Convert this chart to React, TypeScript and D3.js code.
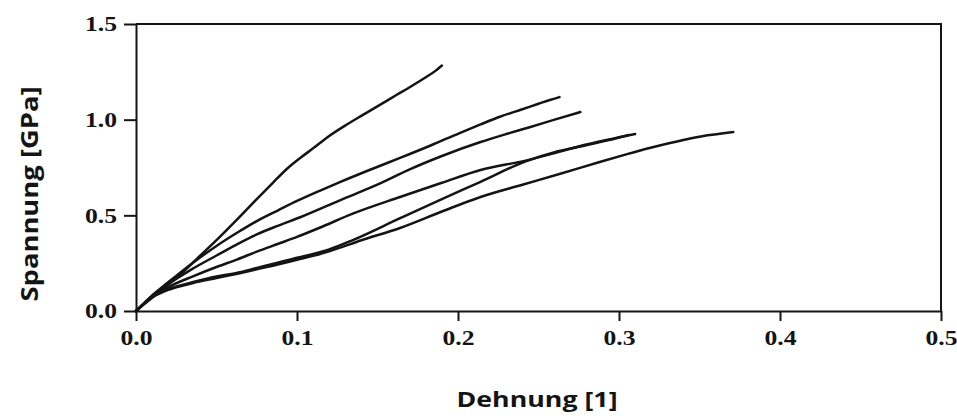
import React, { useEffect, useRef } from "react";
import * as d3 from "d3";

const W = 957;
const H = 416;

// Axis ticks
const strainTicks = [0, 0.1, 0.2, 0.3, 0.4, 0.5];
const stressTicks = [0, 0.5, 1.0, 1.5];

// Stress–strain curves: [Dehnung, Spannung in GPa]
const probe1: [number, number][] = [
  [0, 0], [0.005, 0.035], [0.01, 0.07], [0.015, 0.105], [0.02, 0.14], [0.03, 0.21],
  [0.04, 0.29], [0.05, 0.37], [0.063, 0.48], [0.075, 0.585], [0.085, 0.67],
  [0.094, 0.745], [0.102, 0.8], [0.11, 0.85], [0.12, 0.915], [0.131, 0.975],
  [0.141, 1.025], [0.152, 1.08], [0.162, 1.13], [0.172, 1.18], [0.18, 1.222],
  [0.186, 1.255], [0.19, 1.283],
];
const probe2: [number, number][] = [
  [0, 0], [0.005, 0.04], [0.01, 0.08], [0.02, 0.15], [0.035, 0.25], [0.05, 0.34],
  [0.063, 0.41], [0.075, 0.47], [0.088, 0.525], [0.1, 0.575], [0.114, 0.628],
  [0.127, 0.675], [0.145, 0.737], [0.164, 0.8], [0.183, 0.865], [0.201, 0.93],
  [0.214, 0.975], [0.226, 1.015], [0.239, 1.052], [0.25, 1.083], [0.257, 1.103],
  [0.263, 1.118],
];
const probe3: [number, number][] = [
  [0, 0], [0.005, 0.04], [0.01, 0.08], [0.02, 0.14], [0.035, 0.22], [0.05, 0.29],
  [0.063, 0.35], [0.075, 0.4], [0.088, 0.445], [0.102, 0.49], [0.127, 0.58],
  [0.152, 0.668], [0.17, 0.74], [0.19, 0.81], [0.214, 0.883], [0.23, 0.925],
  [0.245, 0.962], [0.26, 1.0], [0.276, 1.04],
];
const probe4: [number, number][] = [
  [0, 0], [0.005, 0.04], [0.01, 0.075], [0.02, 0.125], [0.035, 0.18], [0.05, 0.23],
  [0.063, 0.27], [0.075, 0.31], [0.088, 0.35], [0.1, 0.387], [0.114, 0.435],
  [0.135, 0.51], [0.164, 0.596], [0.19, 0.67], [0.214, 0.737], [0.242, 0.786],
  [0.26, 0.825], [0.276, 0.862], [0.293, 0.895], [0.31, 0.925],
];
const probe5: [number, number][] = [
  [0, 0], [0.005, 0.04], [0.01, 0.07], [0.02, 0.11], [0.035, 0.145], [0.05, 0.172],
  [0.063, 0.195], [0.075, 0.218], [0.088, 0.243], [0.1, 0.268], [0.11, 0.288],
  [0.12, 0.312], [0.14, 0.37], [0.164, 0.434], [0.19, 0.52], [0.214, 0.596],
  [0.24, 0.66], [0.263, 0.716], [0.288, 0.779], [0.305, 0.82], [0.319, 0.852],
  [0.34, 0.894], [0.355, 0.918], [0.371, 0.936],
];
const probe6: [number, number][] = [
  [0, 0], [0.005, 0.04], [0.01, 0.075], [0.02, 0.115], [0.035, 0.15], [0.05, 0.18],
  [0.063, 0.2], [0.075, 0.225], [0.088, 0.252], [0.1, 0.278], [0.11, 0.298],
  [0.12, 0.322], [0.135, 0.372], [0.164, 0.485], [0.19, 0.585], [0.214, 0.675],
  [0.242, 0.782], [0.26, 0.83], [0.276, 0.86], [0.293, 0.892], [0.306, 0.92],
];
const curves = [probe1, probe2, probe3, probe4, probe5, probe6];

const INK = "#141414";

export default function App() {
  const ref = useRef<SVGSVGElement>(null);

  useEffect(() => {
    const svg = d3.select(ref.current);
    svg.selectAll("*").remove();

    const x = d3.scaleLinear().domain([0, 0.5]).range([136, 941]);
    const y = d3.scaleLinear().domain([0, 1.5]).range([311, 24]);
    const fmt = d3.format(".1f");

    svg.append("rect").attr("width", W).attr("height", H).attr("fill", "#fff");

    // Curves
    const line = d3
      .line<[number, number]>()
      .x((d) => x(d[0]))
      .y((d) => y(d[1]))
      .curve(d3.curveMonotoneX);
    svg
      .append("g")
      .selectAll("path")
      .data(curves)
      .join("path")
      .attr("d", (d) => line(d))
      .attr("fill", "none")
      .attr("stroke", INK)
      .attr("stroke-width", 2.5)
      .attr("stroke-linejoin", "round")
      .attr("stroke-linecap", "round");

    // Top and right frame
    svg
      .append("path")
      .attr("d", `M${x(0)},${y(1.5)}H${x(0.5)}V${y(0)}`)
      .attr("fill", "none")
      .attr("stroke", INK)
      .attr("stroke-width", 2);

    // Bottom axis
    const gx = svg
      .append("g")
      .attr("transform", `translate(0,${y(0)})`)
      .call(
        d3
          .axisBottom(x)
          .tickValues(strainTicks)
          .tickFormat((d) => fmt(d as number))
          .tickSize(10)
          .tickSizeOuter(0)
          .tickPadding(9)
      );

    // Left axis
    const gy = svg
      .append("g")
      .attr("transform", `translate(${x(0)},0)`)
      .call(
        d3
          .axisLeft(y)
          .tickValues(stressTicks)
          .tickFormat((d) => fmt(d as number))
          .tickSize(12)
          .tickSizeOuter(0)
          .tickPadding(7)
      );

    [gx, gy].forEach((g) => {
      g.attr("color", INK)
        .attr("font-family", "'Liberation Serif', 'Times New Roman', serif")
        .attr("font-size", 21)
        .attr("font-weight", "bold");
      g.select(".domain").attr("stroke-width", 2);
      g.selectAll(".tick line").attr("stroke-width", 2);
    });
    gx.selectAll(".tick text").attr("transform", "scale(1.22,1)");
    gy.selectAll(".tick text").attr("x", -19 / 1.22).attr("transform", "scale(1.22,1)");

    // Axis titles
    svg
      .append("text")
      .attr("x", 537)
      .attr("y", 407)
      .attr("text-anchor", "middle")
      .attr("font-family", "'Open Sans', 'Noto Sans', sans-serif")
      .attr("font-weight", "bold")
      .attr("font-size", 21)
      .attr("textLength", 161)
      .attr("lengthAdjust", "spacingAndGlyphs")
      .attr("fill", INK)
      .text("Dehnung [1]");

    svg
      .append("text")
      .attr("transform", "translate(38,194) rotate(-90)")
      .attr("text-anchor", "middle")
      .attr("font-family", "'Open Sans', 'Noto Sans', sans-serif")
      .attr("font-weight", "bold")
      .attr("font-size", 24)
      .attr("textLength", 215)
      .attr("lengthAdjust", "spacingAndGlyphs")
      .attr("fill", INK)
      .text("Spannung [GPa]");
  }, []);

  return (
    <svg
      ref={ref}
      width={W}
      height={H}
      style={{ position: "absolute", left: 0, top: 0, display: "block" }}
    />
  );
}
